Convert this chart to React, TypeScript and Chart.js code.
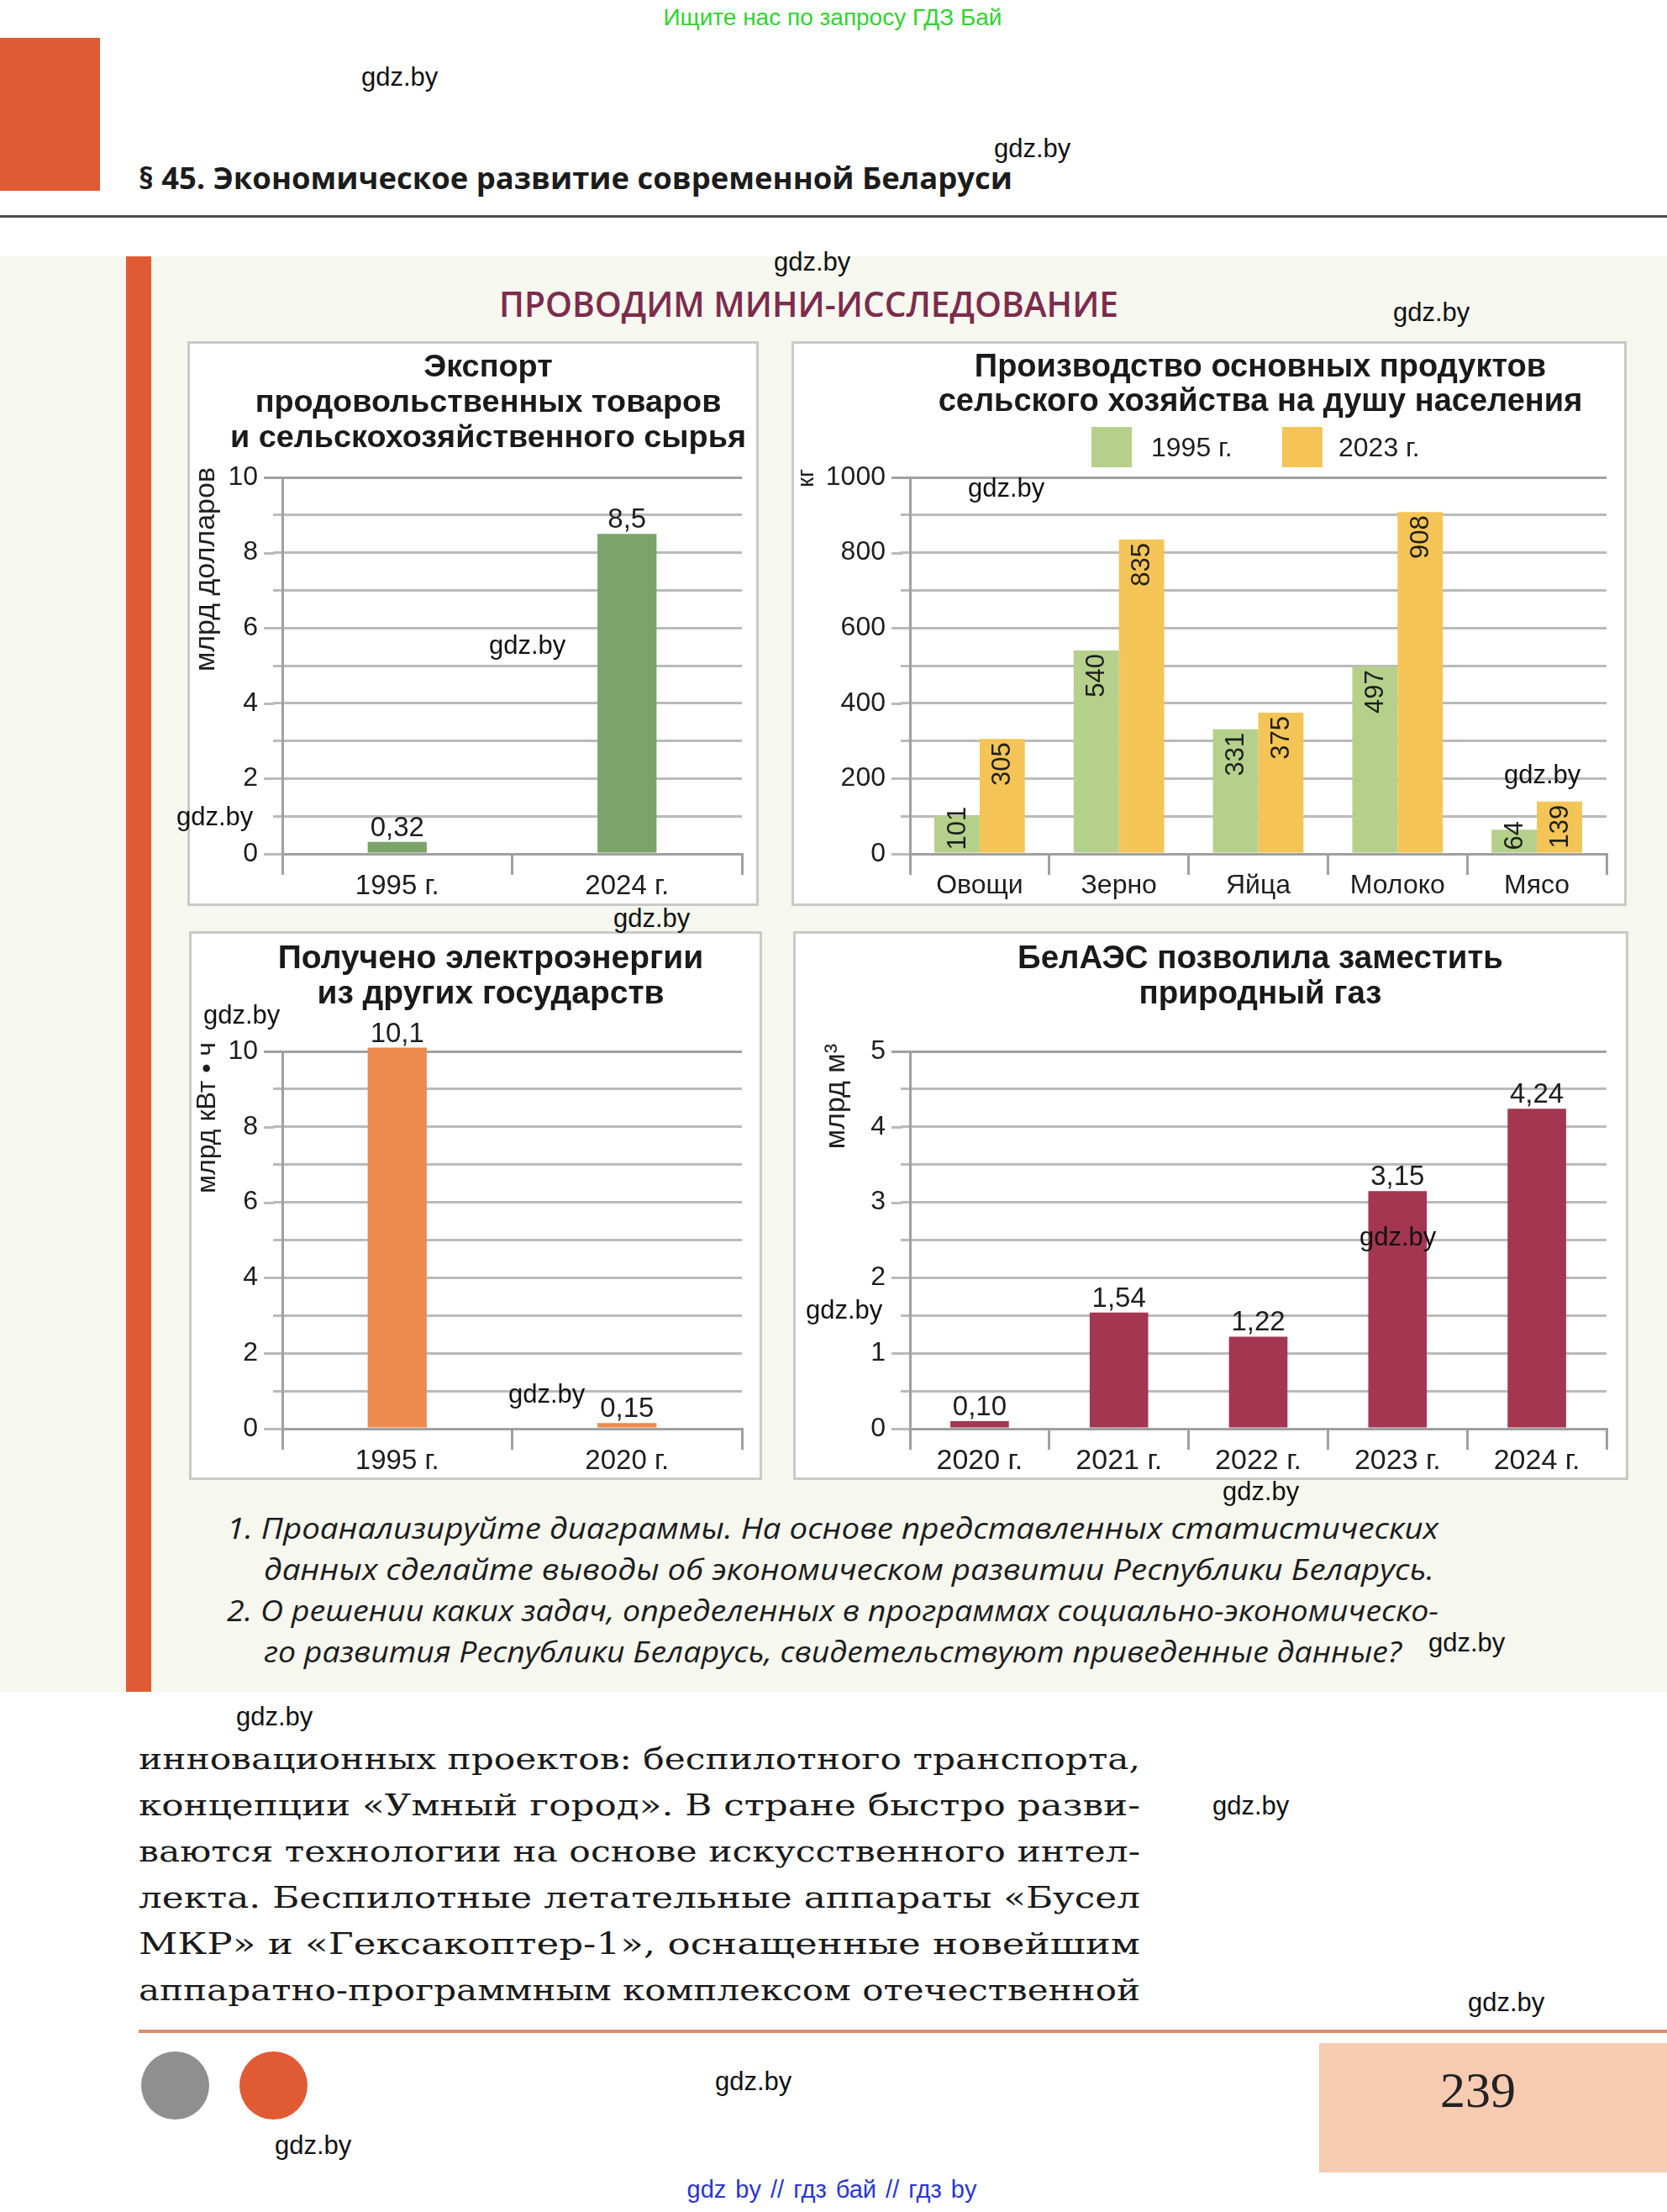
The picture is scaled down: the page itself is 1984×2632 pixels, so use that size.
import React, { useEffect, useLayoutEffect, useRef } from 'react';
import { Chart, registerables } from 'chart.js';

Chart.register(...registerables);

const SANS = '"Liberation Sans", Arial, Helvetica, sans-serif';
const OPEN = '"Open Sans", "Noto Sans", sans-serif';
const SERIF = '"DejaVu Serif", "Liberation Serif", serif';

// ---------------- data ----------------
const exportCategories = ['1995 г.', '2024 г.'];
const exportValues = [0.32, 8.5];
const exportYRange = [0, 10, 1, 2]; // min, max, grid step, label step

const prodCategories = ['Овощи', 'Зерно', 'Яйца', 'Молоко', 'Мясо'];
const prodSeriesNames = ['1995 г.', '2023 г.'];
const prod1995 = [101, 540, 331, 497, 64];
const prod2023 = [305, 835, 375, 908, 139];
const prodYRange = [0, 1000, 100, 200];

const elecCategories = ['1995 г.', '2020 г.'];
const elecValues = [10.1, 0.15];
const elecYRange = [0, 10, 1, 2];

const gasCategories = ['2020 г.', '2021 г.', '2022 г.', '2023 г.', '2024 г.'];
const gasValues = [0.1, 1.54, 1.22, 3.15, 4.24];
const gasYRange = [0, 5, 0.5, 1];

// ---------------- styles ----------------
const GRID = '#bababa';
const AXIS = '#a0a0a0';
const TEXT = '#1e1e1e';

const extrasPlugin = {
  id: 'chartExtras',
  afterDraw(chart: any, _args: any, o: any) {
    const ctx = chart.ctx;
    const area = chart.chartArea;
    const y = chart.scales.y;
    ctx.save();
    ctx.lineWidth = 3;
    y.ticks.forEach((t: any) => {
      const r = t.value / o.labelStep;
      if (Math.abs(r - Math.round(r)) < 1e-6) {
        const py = Math.round(y.getPixelForValue(t.value)) + 0.5;
        ctx.strokeStyle = Math.abs(t.value - y.max) < 1e-6 ? AXIS : GRID;
        ctx.beginPath();
        ctx.moveTo(area.left - 22, py);
        ctx.lineTo(area.left - 9, py);
        ctx.stroke();
      }
    });
    ctx.save();
    ctx.fillStyle = TEXT;
    ctx.font = `${o.titleSize}px ${SANS}`;
    ctx.translate(area.left - o.titleOffset, area.top - o.titleRise);
    ctx.rotate(-Math.PI / 2);
    ctx.textAlign = 'right';
    ctx.textBaseline = 'middle';
    ctx.fillText(o.title, 0, 0);
    ctx.restore();
    chart.data.datasets.forEach((ds: any, i: number) => {
      const meta = chart.getDatasetMeta(i);
      meta.data.forEach((bar: any, j: number) => {
        const v = ds.data[j];
        const txt = (o.digits >= 0 ? v.toFixed(o.digits) : String(v)).replace('.', ',');
        ctx.save();
        ctx.fillStyle = TEXT;
        ctx.font = `${o.valueSize}px ${SANS}`;
        if (o.inside) {
          const w = ctx.measureText(txt).width;
          let start = bar.y + 4;
          if (start + w > bar.base - 3) start = bar.base - 3 - w;
          ctx.translate(bar.x, start);
          ctx.rotate(-Math.PI / 2);
          ctx.textAlign = 'right';
          ctx.textBaseline = 'middle';
          ctx.fillText(txt, 0, 1);
        } else {
          ctx.textAlign = 'center';
          ctx.textBaseline = 'alphabetic';
          ctx.fillText(txt, bar.x, bar.y - 7);
        }
        ctx.restore();
      });
    });
    ctx.restore();
  },
};

type Series = { name: string; data: number[]; color: string };
type Spec = {
  labels: string[];
  series: Series[];
  range: number[];
  width: number;
  height: number;
  yWidth: number;
  padTop: number;
  padRight: number;
  xHeight: number;
  barPct: number;
  catPct: number;
  axisTitle: string;
  axisTitleSize: number;
  axisTitleOffset: number;
  axisTitleRise: number;
  inside: boolean;
  digits: number;
  valueSize: number;
  xFont: number;
};

function buildConfig(s: Spec): any {
  const [min, max, step, labelStep] = s.range;
  const isMajor = (v: number) => Math.abs(v / labelStep - Math.round(v / labelStep)) < 1e-6;
  return {
    type: 'bar',
    data: {
      labels: s.labels,
      datasets: s.series.map((ser) => ({
        label: ser.name,
        data: ser.data,
        backgroundColor: ser.color,
        borderWidth: 0,
        barPercentage: s.barPct,
        categoryPercentage: s.catPct,
        clip: false,
      })),
    },
    options: {
      responsive: false,
      animation: false,
      devicePixelRatio: 1,
      layout: { padding: { top: s.padTop, right: s.padRight, left: 0, bottom: 0 } },
      plugins: {
        legend: { display: false },
        tooltip: { enabled: false },
        title: { display: false },
        chartExtras: {
          labelStep,
          title: s.axisTitle,
          titleSize: s.axisTitleSize,
          titleOffset: s.axisTitleOffset,
          titleRise: s.axisTitleRise,
          inside: s.inside,
          digits: s.digits,
          valueSize: s.valueSize,
        },
      },
      scales: {
        x: {
          grid: {
            drawOnChartArea: false,
            drawTicks: true,
            tickLength: 25,
            offset: true,
            color: AXIS,
            lineWidth: 3,
          },
          border: { display: true, color: AXIS, width: 3 },
          ticks: {
            font: { family: SANS, size: s.xFont, lineHeight: 1 },
            color: TEXT,
            padding: -3,
            maxRotation: 0,
            autoSkip: false,
          },
          afterFit: (sc: any) => {
            sc.height = s.xHeight;
          },
        },
        y: {
          min,
          max,
          ticks: {
            stepSize: step,
            autoSkip: false,
            font: { family: SANS, size: 32 },
            color: TEXT,
            padding: 18,
            callback: (v: any) => (isMajor(Number(v)) ? String(v) : ''),
          },
          grid: {
            color: (c: any) => (c.tick && Math.abs(c.tick.value - max) < 1e-6 ? AXIS : GRID),
            lineWidth: 3,
            tickLength: 11,
            drawTicks: true,
          },
          border: { display: true, color: AXIS, width: 3 },
          afterFit: (sc: any) => {
            sc.width = s.yWidth;
          },
        },
      },
    },
    plugins: [extrasPlugin],
  };
}

function BarChart({ spec }: { spec: Spec }) {
  const ref = useRef<HTMLCanvasElement>(null);
  useEffect(() => {
    const chart = new Chart(ref.current as HTMLCanvasElement, buildConfig(spec));
    return () => chart.destroy();
  }, []);
  return (
    <canvas
      ref={ref}
      width={spec.width}
      height={spec.height}
      style={{ display: 'block', width: spec.width, height: spec.height }}
    />
  );
}

function ChartBox(props: { left: number; top: number; w: number; h: number; spec: Spec }) {
  return (
    <div
      style={{
        position: 'absolute',
        left: props.left,
        top: props.top,
        width: props.w,
        height: props.h,
        boxSizing: 'border-box',
        border: '3px solid #c9c9c9',
        background: '#ffffff',
      }}
    >
      <BarChart spec={props.spec} />
    </div>
  );
}

// a single line of text stretched (horizontally scaled) to a given width
function FitLine(props: {
  text: string;
  left: number;
  cy: number;
  width: number;
  font: string;
  size: number;
  weight?: number;
  italic?: boolean;
  color?: string;
  lh?: number;
}) {
  const ref = useRef<HTMLSpanElement>(null);
  const lh = props.lh || Math.round(props.size * 1.4);
  useLayoutEffect(() => {
    const span = ref.current as HTMLSpanElement;
    span.style.transform = 'none';
    const w = span.getBoundingClientRect().width;
    const k = props.width / Math.max(1, w);
    span.style.transform = `scaleX(${k.toFixed(4)})`;
  }, []);
  return (
    <div
      style={{
        position: 'absolute',
        left: props.left,
        top: props.cy - lh / 2,
        height: lh,
        lineHeight: lh + 'px',
        whiteSpace: 'nowrap',
        fontFamily: props.font,
        fontSize: props.size,
        fontWeight: props.weight || 400,
        fontStyle: props.italic ? 'italic' : 'normal',
        color: props.color || '#1a1a1a',
      }}
    >
      <span ref={ref} style={{ display: 'inline-block', transformOrigin: '0 50%' }}>
        {props.text}
      </span>
    </div>
  );
}

function Centered(props: {
  cx: number;
  top: number;
  lines: string[];
  size: number;
  lh: number;
  weight?: number;
  color?: string;
  font?: string;
  wordSpacing?: number;
}) {
  return (
    <div
      style={{
        position: 'absolute',
        left: props.cx - 500,
        width: 1000,
        top: props.top,
        textAlign: 'center',
        fontFamily: props.font || SANS,
        fontSize: props.size,
        lineHeight: props.lh + 'px',
        fontWeight: props.weight || 700,
        color: props.color || '#1a1a1a',
        whiteSpace: 'pre',
        wordSpacing: props.wordSpacing || 0,
      }}
    >
      {props.lines.map((l, i) => (
        <div key={i}>{l}</div>
      ))}
    </div>
  );
}

const WATERMARKS: [number, number][] = [
  [430, 92], [1183, 177], [921, 312], [1658, 372], [1152, 581], [582, 768],
  [210, 972], [1790, 922], [730, 1093], [242, 1208], [605, 1659], [959, 1559],
  [1618, 1472], [1455, 1775], [1700, 1955], [281, 2043], [1443, 2149],
  [1747, 2383], [851, 2477], [327, 2553],
];

const exportSpec: Spec = {
  labels: exportCategories,
  series: [{ name: 'Экспорт', data: exportValues, color: '#7ba36a' }],
  range: exportYRange,
  width: 674, height: 666, yWidth: 110, padTop: 159, padRight: 17, xHeight: 59,
  barPct: 0.257, catPct: 1,
  axisTitle: 'млрд долларов', axisTitleSize: 34, axisTitleOffset: 90, axisTitleRise: 12,
  inside: false, digits: -1, valueSize: 33, xFont: 33,
};

const prodSpec: Spec = {
  labels: prodCategories,
  series: [
    { name: prodSeriesNames[0], data: prod1995, color: '#b5d08a' },
    { name: prodSeriesNames[1], data: prod2023, color: '#f4c556' },
  ],
  range: prodYRange,
  width: 988, height: 666, yWidth: 138, padTop: 159, padRight: 21, xHeight: 59,
  barPct: 1, catPct: 0.65,
  axisTitle: 'кг', axisTitleSize: 27, axisTitleOffset: 122, axisTitleRise: 10,
  inside: true, digits: -1, valueSize: 31, xFont: 32,
};

const elecSpec: Spec = {
  labels: elecCategories,
  series: [{ name: 'Электроэнергия', data: elecValues, color: '#ed8a4e' }],
  range: elecYRange,
  width: 676, height: 647, yWidth: 108, padTop: 140, padRight: 21, xHeight: 58,
  barPct: 0.257, catPct: 1,
  axisTitle: 'млрд кВт • ч', axisTitleSize: 32, axisTitleOffset: 89, axisTitleRise: 11,
  inside: false, digits: -1, valueSize: 33, xFont: 33,
};

const gasSpec: Spec = {
  labels: gasCategories,
  series: [{ name: 'Газ', data: gasValues, color: '#a43651' }],
  range: gasYRange,
  width: 988, height: 647, yWidth: 136, padTop: 140, padRight: 23, xHeight: 58,
  barPct: 0.42, catPct: 1,
  axisTitle: 'млрд м³', axisTitleSize: 34, axisTitleOffset: 87, axisTitleRise: 9,
  inside: false, digits: 2, valueSize: 33, xFont: 34,
};

const QUESTIONS: [string, number, number][] = [
  ['1. Проанализируйте диаграммы. На основе представленных статистических', 270, 1442],
  ['данных сделайте выводы об экономическом развитии Республики Беларусь.', 314, 1393],
  ['2. О решении каких задач, определенных в программах социально-экономическо-', 270, 1442],
  ['го развития Республики Беларусь, свидетельствуют приведенные данные?', 314, 1354],
];

const BODY: string[] = [
  'инновационных проектов: беспилотного транспорта,',
  'концепции «Умный город». В стране быстро разви-',
  'ваются технологии на основе искусственного интел-',
  'лекта. Беспилотные летательные аппараты «Бусел',
  'МКР» и «Гексакоптер-1», оснащенные новейшим',
  'аппаратно-программным комплексом отечественной',
];

export default function App() {
  return (
    <div
      style={{
        position: 'absolute',
        left: 0,
        top: 0,
        width: 1984,
        height: 2632,
        overflow: 'hidden',
        background: '#ffffff',
        fontFamily: SANS,
      }}
    >
      <Centered cx={991} top={5} lines={['Ищите нас по запросу ГДЗ Бай']} size={28} lh={32} weight={400} color="#2fd42f" />
      <div style={{ position: 'absolute', left: 0, top: 45, width: 119, height: 182, background: '#e05b33' }} />
      <FitLine text="§ 45. Экономическое развитие современной Беларуси" left={165} cy={212} width={1040} font={OPEN} size={36} weight={700} color="#1c1c1c" />
      <div style={{ position: 'absolute', left: 0, top: 256, width: 1984, height: 3, background: '#4d4d4d' }} />

      <div style={{ position: 'absolute', left: 0, top: 305, width: 1984, height: 1708, background: '#f6f7ef' }} />
      <div style={{ position: 'absolute', left: 150, top: 305, width: 30, height: 1708, background: '#e05b33' }} />
      <FitLine text="ПРОВОДИМ МИНИ-ИССЛЕДОВАНИЕ" left={594} cy={360} width={737} font={OPEN} size={42} weight={600} color="#7d2b4c" />

      <ChartBox left={223} top={406} w={680} h={672} spec={exportSpec} />
      <ChartBox left={942} top={406} w={994} h={672} spec={prodSpec} />
      <ChartBox left={225} top={1108} w={682} h={653} spec={elecSpec} />
      <ChartBox left={944} top={1108} w={994} h={653} spec={gasSpec} />

      <Centered cx={581} top={414} lines={['Экспорт', 'продовольственных товаров', 'и сельскохозяйственного сырья']} size={37.8} lh={42} />
      <Centered cx={1500} top={415} lines={['Производство основных продуктов', 'сельского хозяйства на душу населения']} size={38} lh={41} />
      <Centered cx={584} top={1118} lines={['Получено электроэнергии', 'из других государств']} size={39} lh={42} />
      <Centered cx={1500} top={1118} lines={['БелАЭС позволила заместить', 'природный газ']} size={38.5} lh={42} />

      <div style={{ position: 'absolute', left: 1299, top: 508, width: 48, height: 48, background: prodSpec.series[0].color }} />
      <div style={{ position: 'absolute', left: 1370, top: 513, lineHeight: '38px', fontSize: 32, color: TEXT }}>{prodSeriesNames[0]}</div>
      <div style={{ position: 'absolute', left: 1526, top: 508, width: 48, height: 48, background: prodSpec.series[1].color }} />
      <div style={{ position: 'absolute', left: 1593, top: 513, lineHeight: '38px', fontSize: 32, color: TEXT }}>{prodSeriesNames[1]}</div>

      {QUESTIONS.map(([t, l, w], i) => (
        <FitLine key={'q' + i} text={t} left={l} cy={1817 + i * 49} width={w} font={OPEN} size={35} italic color="#1c1c1c" />
      ))}

      {BODY.map((t, i) => (
        <FitLine key={'b' + i} text={t} left={165} cy={2093 + i * 55} width={1192} font={SERIF} size={36} color="#1a1a1a" />
      ))}

      <div style={{ position: 'absolute', left: 165, top: 2415, width: 1819, height: 4, background: '#dd8a6e' }} />
      <div style={{ position: 'absolute', left: 168, top: 2441, width: 81, height: 81, borderRadius: '50%', background: '#8f8f8f' }} />
      <div style={{ position: 'absolute', left: 285, top: 2441, width: 81, height: 81, borderRadius: '50%', background: '#e05b33' }} />
      <div style={{ position: 'absolute', left: 1570, top: 2431, width: 414, height: 154, background: '#f7cbb1' }} />
      <Centered cx={1759} top={2452} lines={['239']} size={60} lh={70} weight={400} font={'"Liberation Serif", serif'} color="#222" />
      <Centered cx={990} top={2588} lines={['gdz by // гдз бай // гдз by']} size={29} lh={34} weight={400} color="#2a35d6" wordSpacing={3} />

      {WATERMARKS.map(([x, cy], i) => (
        <div key={'w' + i} style={{ position: 'absolute', left: x, top: cy - 17, lineHeight: '34px', fontSize: 31, color: '#111', whiteSpace: 'nowrap' }}>
          gdz.by
        </div>
      ))}
    </div>
  );
}
